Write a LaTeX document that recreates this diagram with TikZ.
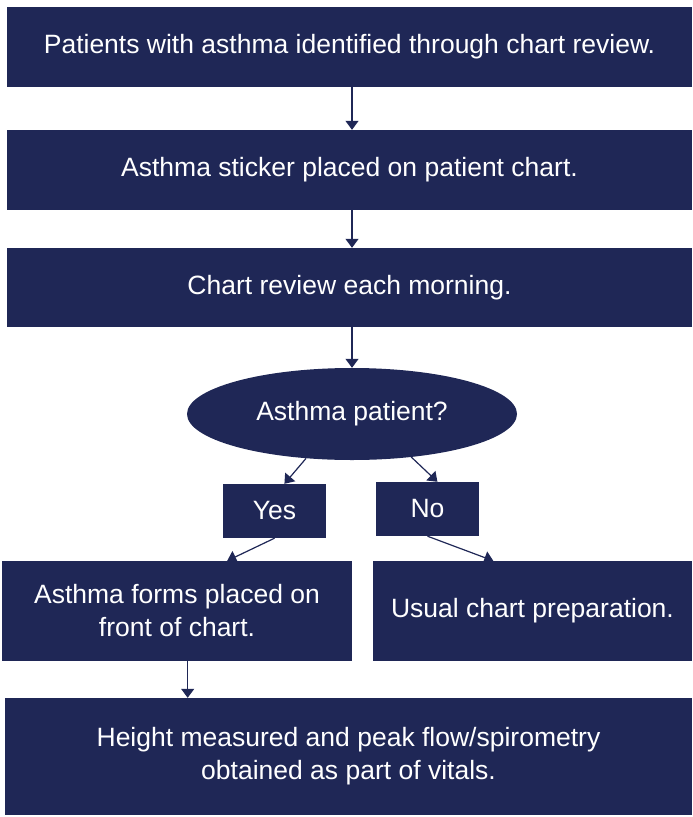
\documentclass[tikz,border=0pt]{standalone}
\usepackage{fontspec}
\setmainfont{Liberation Sans}
\usetikzlibrary{arrows.meta, shapes.geometric, positioning}
\definecolor{navy}{HTML}{1F2756}

\begin{document}
\begin{tikzpicture}[x=1pt, y=-1pt,
    box/.style={rectangle, fill=navy, text=white, inner sep=0pt, align=center, font=\fontsize{26.5}{33}\selectfont},
    link/.style={draw=navy, line width=1.2pt, -{Triangle[width=13pt, length=9pt]}}]
                \useasboundingbox (0, 0) rectangle (693, 817);
                % main steps
                \node[box, minimum width=685pt, minimum height=80pt] (chart) at (349.5, 47) {Patients with asthma identified through chart review.};
                \node[box, minimum width=685pt, minimum height=80pt] (sticker) at (349.5, 170) {Asthma sticker placed on patient chart.};
                \node[box, minimum width=685pt, minimum height=79pt] (morning) at (349.5, 287.5) {Chart review each morning.};
                \node[box, ellipse, minimum width=330pt, minimum height=92pt] (ask) at (352, 414) {Asthma patient?};

                % answers
                \node[box, minimum width=103pt, minimum height=54pt] (yes) at (274.5, 511) {Yes};
                \node[box, minimum width=103pt, minimum height=54pt] (no) at (427.5, 509) {No};
                \node[box, minimum width=350pt, minimum height=100pt] (forms) at (177, 611) {Asthma forms placed on\\ front of chart.};
                \node[box, minimum width=319pt, minimum height=100pt] (usual) at (532.5, 611) {Usual chart preparation.};
                \node[box, minimum width=687pt, minimum height=117pt] (vitals) at (348.5, 756.5) {Height measured and peak flow/spirometry\\ obtained as part of vitals.};

                \draw[link] (chart.south -| ask.center) -- (sticker.north -| ask.center);
                \draw[link] (sticker.south -| ask.center) -- (morning.north -| ask.center);
                \draw[link] (morning.south -| ask.center) -- (ask.north);
                \draw[link] (ask.224) -- (yes.70);
                \draw[link] (ask.324) -- (no.70);
                \draw[link] (yes.south) -- (forms.45);
                \draw[link] (no.south) -- (usual.128);
                \draw[link] (forms.-78) -- (forms.-78 |- vitals.north);
            \end{tikzpicture}
\end{document}
